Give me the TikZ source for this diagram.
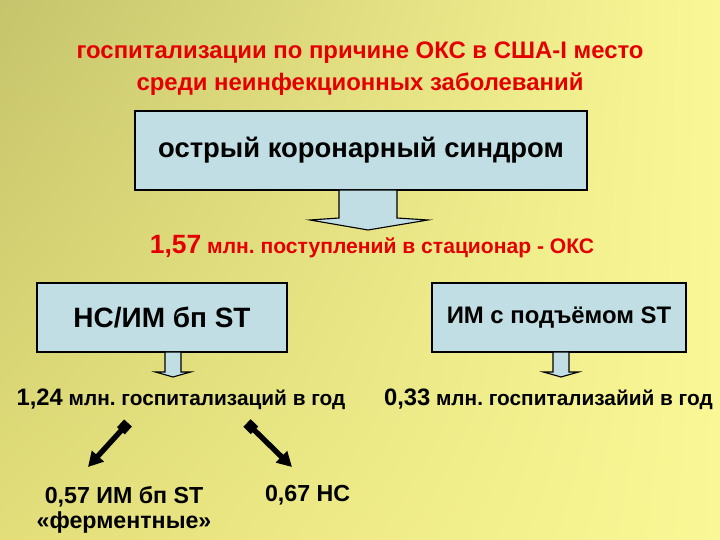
\documentclass[tikz,border=0pt]{standalone}
\usepackage{fontspec}
\setmainfont{Liberation Sans}
\usetikzlibrary{arrows.meta, shadings}

\definecolor{okred}{RGB}{228,0,0}
\definecolor{boxfill}{RGB}{192,222,228}
\definecolor{bgdark}{RGB}{198,196,108}
\definecolor{bgmid}{RGB}{226,222,122}
\definecolor{bglight}{RGB}{250,248,150}

\newcommand{\okfont}[2]{\fontsize{#1}{#2}\selectfont\bfseries}

\begin{document}
\begin{tikzpicture}[
  box/.style={draw=black, line width=0.8pt, fill=boxfill, inner sep=0pt},
  fatarrow/.style={draw=black, line width=0.8pt, fill=boxfill, line join=miter},
  pointer/.style={line width=3.8pt, {Square[length=7.5pt,width=7.5pt]}-{Triangle[length=10.5pt,width=11pt]}}
]

\shade[upper left=bgdark, upper right=bglight, lower left=bgmid, lower right=bglight] (0,0) rectangle (18,13.5);

\node[text=okred, align=center, font=\okfont{17}{22.8}] (title) at (9,11.775) {госпитализации по причине ОКС в США-I место\\среди неинфекционных заболеваний};

\node[box, minimum width=11.3cm, minimum height=1.975cm, font=\okfont{19.5}{23}] (acs) at (9.025,9.7375) {острый коронарный синдром};
\draw[fatarrow] (8.475,8.75) -- (8.475,8.05) -- (7.75,8.0) -- (9.2,7.75) -- (10.7,8.0) -- (9.925,8.05) -- (9.925,8.75) -- cycle;

\node[anchor=base, text=okred, font=\okfont{15}{18}] (total) at (9.3,7.15) {{\okfont{18.8}{22}1,57} млн.\ поступлений в стационар - ОКС};

\node[box, minimum width=6.25cm, minimum height=1.725cm, font=\okfont{19.9}{24}] (nsim) at (4.05,5.5625) {НС/ИМ бп ST};
\node[box, minimum width=6.35cm, minimum height=1.725cm, font=\okfont{17}{20}] (stemi) at (13.975,5.5625) {ИМ с подъёмом ST};

\foreach \x in {4.325, 14.025} {
\draw[fatarrow] ({\x-0.2},4.7) -- ({\x-0.2},4.2) -- ({\x-0.44},4.2) -- (\x,4.075)
-- ({\x+0.44},4.2) -- ({\x+0.2},4.2) -- ({\x+0.2},4.7) -- cycle;
}

\node[anchor=base, font=\okfont{14.8}{18}] (nsimyear) at (4.525,3.35) {{\okfont{16.9}{20}1,24} млн.\ госпитализаций в год};
\node[anchor=base, font=\okfont{14.8}{18}] (stemiyear) at (13.71,3.35) {{\okfont{16.9}{20}0,33} млн.\ госпитализайий в год};

\node[align=center, font=\okfont{16.5}{17.5}] (enzyme) at (3.1,0.76) {0,57 ИМ бп ST\\«ферментные»};
\node[anchor=base, font=\okfont{16.5}{20}] (unstable) at (7.69,0.96) {0,67 НС};

\coordinate (p1) at (3.2,2.925);
\coordinate (p2) at (2.2,1.825);
\coordinate (p3) at (6.175,2.925);
\coordinate (p4) at (7.3,1.825);
\draw[pointer] (p1) -- (p2);
\draw[pointer] (p3) -- (p4);

\end{tikzpicture}
\end{document}
